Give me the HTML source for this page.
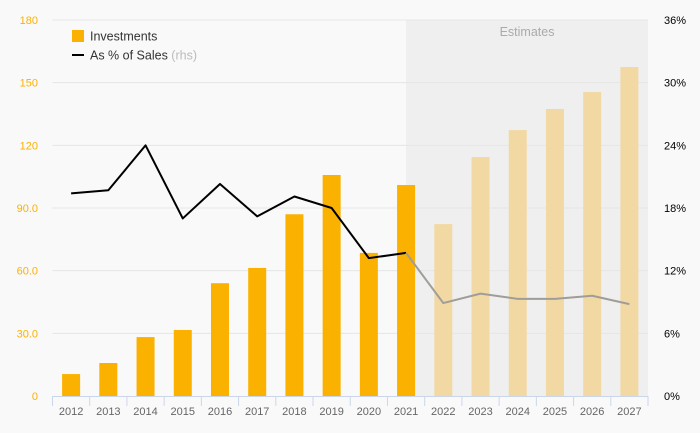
<!DOCTYPE html>
<html><head><meta charset="utf-8"><style>
html,body{margin:0;padding:0;background:#f9f9f9;}
svg{display:block;font-family:"Liberation Sans",sans-serif;}
</style></head><body>
<svg id="chart" width="700" height="433">
<rect x="0" y="0" width="700" height="433" fill="#f9f9f9"/>
<g id="shade"></g><g id="grid"></g><g id="bars"></g><g id="lines"></g><g id="axes"></g>
<g>
<rect x="72" y="30" width="12" height="12" fill="#fbb100"/>
<text x="90" y="40.5" font-size="12.5" fill="#333">Investments</text>
<line x1="72" y1="55" x2="84" y2="55" stroke="#000" stroke-width="2"/>
<text x="90" y="59.5" font-size="12.5" fill="#333">As % of Sales <tspan fill="#bbb">(rhs)</tspan></text>
</g>
</svg>
<script>
const years=["2012","2013","2014","2015","2016","2017","2018","2019","2020","2021","2022","2023","2024","2025","2026","2027"];
const investments=[10.5,15.8,28.2,31.6,54,61.3,87,105.8,68.5,101,82.3,114.4,127.3,137.4,145.5,157.5];
const pctSales=[19.4,19.7,24.0,17.0,20.3,17.2,19.1,18.0,13.2,13.7,8.9,9.8,9.3,9.3,9.6,8.8];
const leftTicks=[0,30,60,90,120,150,180];
const leftTickLabels=["0","30.0","60.0","90.0","120","150","180"];
const rightTicks=[0,6,12,18,24,30,36];
const firstEstimate=10;
const NS="http://www.w3.org/2000/svg";
const L=52.5,R=648,T=20,B=396;
const cw=(R-L)/years.length;
const xc=i=>L+cw*(i+0.5);
const yL=v=>B-(B-T)*v/180;
const yR=v=>B-(B-T)*v/36;
function mk(tag,attrs,parent){const e=document.createElementNS(NS,tag);for(const k in attrs)e.setAttribute(k,attrs[k]);document.getElementById(parent).appendChild(e);return e;}
// shading
let s=mk('rect',{x:xc(firstEstimate-1),y:T,width:R-xc(firstEstimate-1),height:B-T,fill:'#efefef'},'shade');


let st=mk('text',{x:(xc(firstEstimate-1)+R)/2,y:36,'font-size':12.5,fill:'#aaa','text-anchor':'middle'},'shade');
st.textContent='Estimates';


// grid + left/right ticks
leftTicks.forEach((v,i)=>{
  if(v>0){let g=mk('line',{x1:L,x2:R,y1:yL(v),y2:yL(v),stroke:'#e6e6e6','stroke-width':1},'grid');
  
  }
  let t=mk('text',{x:38,y:yL(v)+4,'font-size':11,fill:'#fbb100','text-anchor':'end'},'axes');
  t.textContent=leftTickLabels[i];
  
  
});
rightTicks.forEach(v=>{
  let t=mk('text',{x:664,y:yR(v)+4,'font-size':11,fill:'#000'},'axes');
  t.textContent=v+'%';
  
  
});
// bars
investments.forEach((v,i)=>{
  let r=mk('rect',{x:xc(i)-9,y:yL(v),width:18,height:B-yL(v),fill:i>=firstEstimate?'#f2d9a3':'#fbb100'},'bars');
  
  
});
// line
let pa=pctSales.slice(0,firstEstimate).map((v,i)=>xc(i)+','+yR(v)).join(' ');
let pb=pctSales.slice(firstEstimate-1).map((v,j)=>xc(j+firstEstimate-1)+','+yR(v)).join(' ');
let l1=mk('polyline',{points:pa,fill:'none',stroke:'#000','stroke-width':2,'stroke-linejoin':'round'},'lines');


let l2=mk('polyline',{points:pb,fill:'none',stroke:'#a09d99','stroke-width':2,'stroke-linejoin':'round'},'lines');


// x axis
let ax=mk('line',{x1:L,x2:R,y1:B+0.5,y2:B+0.5,stroke:'#ccd6eb','stroke-width':1},'axes');


for(let i=0;i<=years.length;i++){
  let tk=mk('line',{x1:L+cw*i,x2:L+cw*i,y1:B,y2:B+10,stroke:'#ccd6eb','stroke-width':1},'axes');
  
  
}
years.forEach((y,i)=>{
  let t=mk('text',{x:xc(i),y:415,'font-size':11,fill:'#666','text-anchor':'middle'},'axes');
  t.textContent=y;
  
  
});
</script>
</body></html>
